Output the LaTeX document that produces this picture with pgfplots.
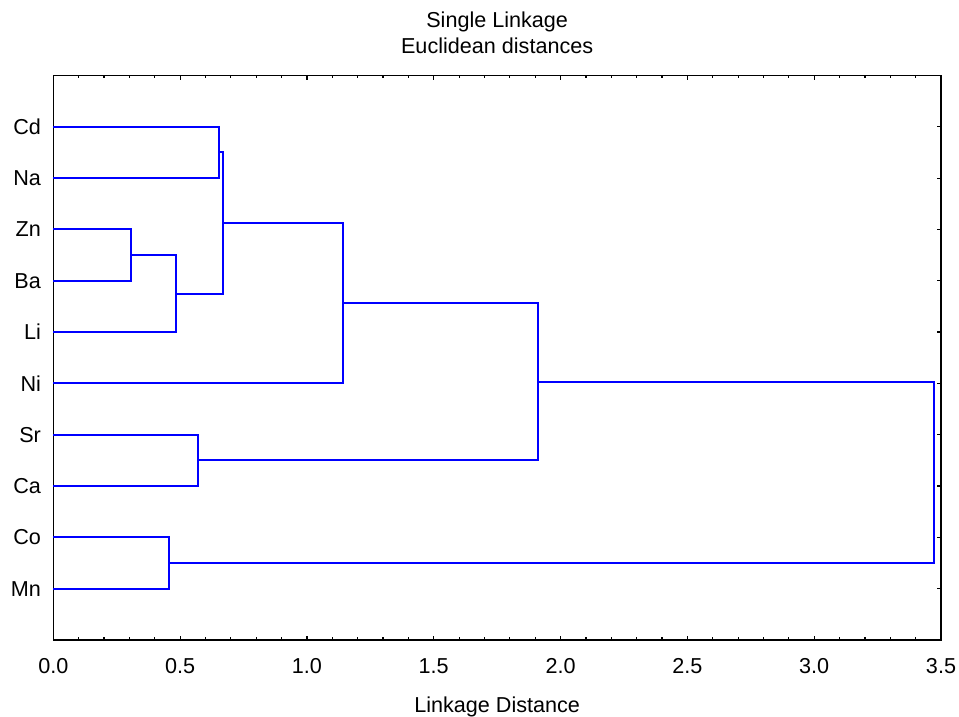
\documentclass[border=0pt]{standalone}
\usepackage{pgfplots}
\pgfplotsset{compat=1.18}
\usepackage{fontspec}
\setmainfont{Liberation Sans}
\newcommand{\ff}{\fontsize{10.8}{13}\selectfont}
\begin{document}
\begin{tikzpicture}
\begin{axis}[
  at={(0,0)}, anchor=south west,
  scale only axis,
  width=443.85pt, height=282.25pt,
  xmin=0, xmax=3.5, ymin=0, ymax=11,
  y dir=reverse,
  clip=false,
  xtick={0,0.5,1,1.5,2,2.5,3,3.5},
  minor x tick num=4,
  ytick={1,2,3,4,5,6,7,8,9,10},
  yticklabels={Cd,Na,Zn,Ba,Li,Ni,Sr,Ca,Co,Mn},
  tick align=inside,
  major tick length=2.2pt,
  minor tick length=1.3pt,
  every tick/.style={black, line width=0.6pt},
  axis line style={black, line width=0.75pt},
  /pgf/number format/assume math mode=true,
  /pgf/number format/.cd, fixed, fixed zerofill, precision=1, /pgfplots/.cd,
  xticklabel style={font=\ff, anchor=base, yshift=-16.5pt, inner sep=0pt},
  yticklabel style={font=\ff, anchor=east, xshift=-6pt, inner sep=0pt},
  xlabel={Linkage Distance},
  xlabel style={font=\ff, at={(axis description cs:0.5,0)}, anchor=base, yshift=-36pt, inner sep=0pt},
  dend/.style={color={rgb,255:red,0;green,0;blue,255}, solid, line width=1pt, mark=none},
]
% Zn-Ba
\addplot[dend] coordinates {(0,3) (0.308,3) (0.308,4) (0,4)};
% (Zn,Ba)-Li
\addplot[dend] coordinates {(0.308,3.5) (0.485,3.5) (0.485,5) (0,5)};
% Cd-Na
\addplot[dend] coordinates {(0,1) (0.653,1) (0.653,2) (0,2)};
% (Cd,Na)-(Zn,Ba,Li)
\addplot[dend] coordinates {(0.653,1.5) (0.669,1.5) (0.669,4.25) (0.485,4.25)};
% + Ni
\addplot[dend] coordinates {(0.669,2.875) (1.142,2.875) (1.142,6) (0,6)};
% Sr-Ca
\addplot[dend] coordinates {(0,7) (0.569,7) (0.569,8) (0,8)};
% (...Ni)-(Sr,Ca)
\addplot[dend] coordinates {(1.142,4.4375) (1.911,4.4375) (1.911,7.5) (0.569,7.5)};
% Co-Mn
\addplot[dend] coordinates {(0,9) (0.456,9) (0.456,10) (0,10)};
% final
\addplot[dend] coordinates {(1.911,5.96875) (3.472,5.96875) (3.472,9.5) (0.456,9.5)};
\node[font=\ff, anchor=base, yshift=24pt, inner sep=0pt] at (rel axis cs:0.5,1) {Single Linkage};
\node[font=\ff, anchor=base, yshift=11pt, inner sep=0pt] at (rel axis cs:0.5,1) {Euclidean distances};
\end{axis}
\pgfresetboundingbox
\useasboundingbox (-26.65pt,-38.5pt) rectangle (452.85pt,320pt);
\end{tikzpicture}
\end{document}
